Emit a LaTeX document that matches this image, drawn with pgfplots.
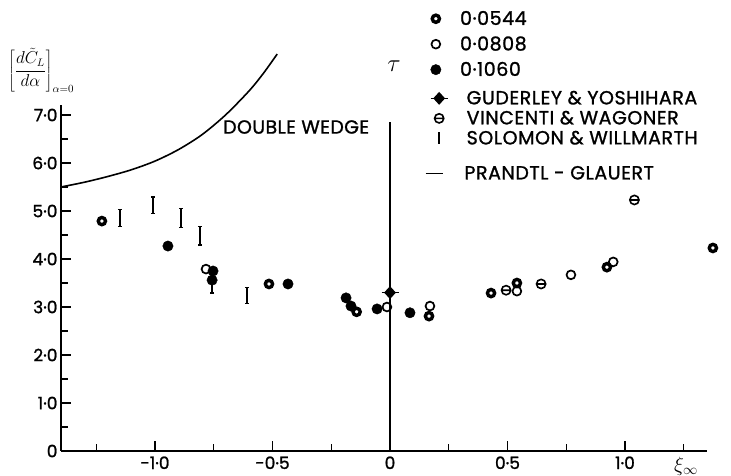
\documentclass[border=0pt]{standalone}
\usepackage{pgfplots}
\pgfplotsset{compat=1.18}
\usepackage{fontspec}
\setmainfont{Poppins}[FakeBold=1.2]
\usetikzlibrary{plotmarks}

% circle with a horizontal bar (Vincenti & Wagoner)
\pgfdeclareplotmark{ominus}{%
  \pgfpathcircle{\pgfpointorigin}{\pgfplotmarksize}%
  \pgfpathmoveto{\pgfpoint{-\pgfplotmarksize}{0pt}}%
  \pgfpathlineto{\pgfpoint{\pgfplotmarksize}{0pt}}%
  \pgfusepathqstroke}
% filled diamond on a short horizontal bar (Guderley & Yoshihara)
\pgfdeclareplotmark{bardiamond}{%
  \pgfpathmoveto{\pgfpoint{-1.7\pgfplotmarksize}{0pt}}%
  \pgfpathlineto{\pgfpoint{1.7\pgfplotmarksize}{0pt}}%
  \pgfusepathqstroke
  \pgfpathmoveto{\pgfpoint{0pt}{1.1\pgfplotmarksize}}%
  \pgfpathlineto{\pgfpoint{\pgfplotmarksize}{0pt}}%
  \pgfpathlineto{\pgfpoint{0pt}{-1.1\pgfplotmarksize}}%
  \pgfpathlineto{\pgfpoint{-\pgfplotmarksize}{0pt}}%
  \pgfpathclose
  \pgfusepathqfillstroke}

\newcommand{\lbl}{\fontsize{17bp}{17bp}\selectfont}
\newcommand{\leglbl}{\fontsize{19bp}{19bp}\selectfont\addfontfeatures{LetterSpace=3}}

\pgfplotsset{
  base/.style={
    x=235bp, y=48bp,
    anchor=origin, at={(390bp,-451bp)},
    xmin=-1.4, xmax=1.35, ymin=0, ymax=7.2,
    clip=false,
  },
  leg/.style={
    legend cell align=left,
    legend style={draw=none, fill=none, inner sep=0pt, outer sep=0pt,
      font=\leglbl, column sep=18bp,
      nodes={inner sep=1bp}},
  },
  thick ring/.style={only marks, mark=*, mark size=3.6bp,
    mark options={fill=white, draw=black, line width=3.4bp}},
  thin ring/.style={only marks, mark=o, mark size=4.4bp,
    mark options={draw=black, line width=1.7bp}},
  full dot/.style={only marks, mark=*, mark size=5.2bp,
    mark options={fill=black, draw=black}},
}

\begin{document}
\begin{tikzpicture}
\path[use as bounding box] (0bp,0bp) rectangle (731bp,-476bp);

% experiments by thickness ratio
\begin{axis}[base, leg,
  axis lines*=left,
  axis line style={line width=1.7bp},
  tick align=inside,
  major tick length=10bp, minor tick length=7bp,
  every tick/.style={black, line width=1.3bp},
  xtick={-1,-0.5,0,0.5,1},
  xticklabels={-1·0,-0·5,0,0·5,1·0},
  minor xtick={-1.25,-0.75,-0.25,0.25,0.75,1.25},
  ytick={0,1,2,3,4,5,6,7},
  yticklabels={0,1·0,2·0,3·0,4·0,5·0,6·0,7·0},
  minor ytick={0.5,1.5,2.5,3.5,4.5,5.5,6.5},
  tick label style={font=\lbl},
  xticklabel style={yshift=-2bp},
  legend style={at={(0.572,1.276)}, anchor=north west, row sep=8bp},
]
\addplot[thick ring] coordinates {
  (-1.226,4.79) (-0.515,3.48) (-0.142,2.90) (0.166,2.81)
  (0.430,3.29) (0.540,3.50) (0.923,3.83) (1.374,4.23)};
\addlegendentry{0·0544}
\addplot[thin ring] coordinates {
  (-0.783,3.79) (-0.013,3.00) (0.170,3.02) (0.540,3.33)
  (0.770,3.67) (0.950,3.94)};
\addlegendentry{0·0808}
\addplot[full dot] coordinates {
  (-0.945,4.27) (-0.753,3.75) (-0.757,3.56) (-0.434,3.48)
  (-0.187,3.19) (-0.166,3.02) (-0.055,2.96) (0.085,2.88)};
\addlegendentry{0·1060}
\end{axis}

% theory and other experiments
\begin{axis}[base, leg, hide axis,
  legend style={at={(0.572,1.045)}, anchor=north west, row sep=3bp},
]
\addplot[only marks, mark=bardiamond, mark size=5bp,
  mark options={fill=black, draw=black, line width=1.3bp}]
  coordinates {(0,3.30)};
\addlegendentry{GUDERLEY \& YOSHIHARA}
\addplot[only marks, mark=ominus, mark size=4.6bp,
  mark options={draw=black, line width=1.6bp}]
  coordinates {(0.494,3.35) (0.643,3.48) (1.040,5.23)};
\addlegendentry{VINCENTI \& WAGONER}
\addplot[forget plot, draw=none, mark=none,
  error bars/.cd, y dir=both, y explicit, error mark=|,
  error bar style={line width=1.6bp, draw=black},
  error mark options={mark size=2bp, line width=1.3bp, draw=black}]
  coordinates {
  (-1.149,4.85) +- (0,0.18)
  (-1.009,5.12) +- (0,0.17)
  (-0.889,4.85) +- (0,0.20)
  (-0.809,4.48) +- (0,0.19)
  (-0.757,3.50) +- (0,0.21)
  (-0.609,3.24) +- (0,0.16)};
\addlegendimage{only marks, mark=|, mark size=6bp,
  mark options={line width=1.6bp, black}}
\addlegendentry{SOLOMON \& WILLMARTH}
\end{axis}

% Prandtl-Glauert curve and the zero line
\begin{axis}[base, leg, hide axis,
  legend style={at={(0.563,0.8275)}, anchor=north west, column sep=20bp},
]
\addplot[black, line width=1.6bp, smooth] coordinates {
  (-1.40,5.50) (-1.30,5.60) (-1.20,5.72) (-1.10,5.86) (-1.00,6.04)
  (-0.90,6.28) (-0.80,6.59) (-0.70,7.00) (-0.60,7.50) (-0.54,7.86)
  (-0.48,8.27)};
\addlegendentry{PRANDTL - GLAUERT}
\addplot[forget plot, black, line width=1.7bp] coordinates {(0,0) (0,6.85)};
\end{axis}

% labels
\node[anchor=west, inner sep=0pt] at (8bp,-70bp)
  {\fontsize{16bp}{16bp}\selectfont$\left[\displaystyle\frac{d\tilde{C}_L}{d\alpha}\right]_{\alpha=0}$};
\node[anchor=west, inner sep=0pt] at (223bp,-127bp)
  {\fontsize{19bp}{19bp}\selectfont\addfontfeatures{LetterSpace=2}DOUBLE WEDGE};
\node at (394bp,-66bp) {\fontsize{24bp}{24bp}\selectfont$\tau$};
\node at (686bp,-466bp) {\fontsize{21bp}{21bp}\selectfont$\xi_\infty$};
\end{tikzpicture}
\end{document}
